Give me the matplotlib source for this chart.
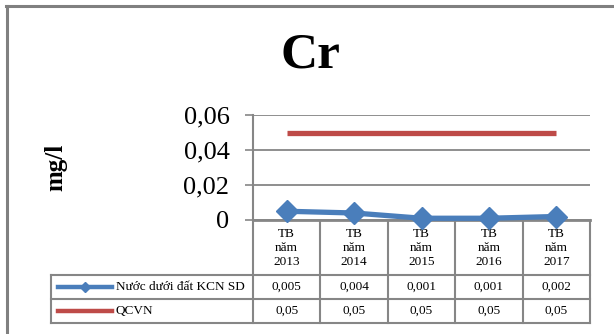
import matplotlib
matplotlib.use("Agg")
import matplotlib.pyplot as plt
from matplotlib.lines import Line2D

categories = ["TB\nnăm\n2013", "TB\nnăm\n2014", "TB\nnăm\n2015", "TB\nnăm\n2016", "TB\nnăm\n2017"]
series_names = ["Nước dưới đất KCN SD", "QCVN"]
groundwater = [0.005, 0.004, 0.001, 0.001, 0.002]
qcvn = [0.05, 0.05, 0.05, 0.05, 0.05]
groundwater_labels = ["0,005", "0,004", "0,001", "0,001", "0,002"]
qcvn_labels = ["0,05", "0,05", "0,05", "0,05", "0,05"]
yticks = [0, 0.02, 0.04, 0.06]
ytick_labels = ["0", "0,02", "0,04", "0,06"]

W, H = 614, 334
BLUE = "#4A7EBB"
RED = "#BE4B48"
GRAY = "#868686"
SERIF = "Liberation Serif"

plt.rcParams["font.family"] = [SERIF, "DejaVu Serif"]

fig = plt.figure(figsize=(W / 100, H / 100), dpi=100)

# pixel geometry of the plot area
px_left, px_right, px_top, px_bottom = 253, 590, 115, 220
ax = fig.add_axes([px_left / W, 1 - px_bottom / H, (px_right - px_left) / W, (px_bottom - px_top) / H])

x = list(range(len(categories)))
ax.plot(x, qcvn, color=RED, lw=3.8, solid_capstyle="butt", zorder=3)
ax.plot(x, groundwater, color=BLUE, lw=3.8, marker="D", markersize=11,
        markerfacecolor=BLUE, markeredgecolor=BLUE, zorder=4, clip_on=False)
ax.set_xlim(-0.5, len(categories) - 0.5)
ax.set_ylim(0, 0.06)
ax.set_yticks(yticks)
ax.set_yticklabels(ytick_labels)
ax.set_xticks([])
ax.tick_params(axis="y", length=6, width=1.2, color=GRAY, pad=11, labelsize=19)
ax.yaxis.grid(True, color=GRAY, lw=1.3)
ax.set_axisbelow(True)
for s in ["top", "right"]:
    ax.spines[s].set_visible(False)
ax.spines["left"].set_color(GRAY)
ax.spines["left"].set_linewidth(1.5)
ax.spines["bottom"].set_color(GRAY)
ax.spines["bottom"].set_linewidth(2)

# overlay in pixel coordinates for frame and data table
ov = fig.add_axes([0, 0, 1, 1], zorder=-1)
ov.set_xlim(0, W)
ov.set_ylim(H, 0)
ov.axis("off")

def hline(y, x0, x1, lw=1.5, color=GRAY):
    ov.add_line(Line2D([x0, x1], [y, y], color=color, lw=lw))

def vline(xp, y0, y1, lw=1.5, color=GRAY):
    ov.add_line(Line2D([xp, xp], [y0, y1], color=color, lw=lw))

# outer chart frame
hline(6, 6, W, lw=2.2, color="#808080")
vline(7, 6, H, lw=2.2, color="#808080")

fig.canvas.draw()
def data_to_px(xv):
    d = ax.transData.transform((xv, 0))
    return d[0]

borders = [data_to_px(i - 0.5) for i in range(len(categories) + 1)]
centers = [data_to_px(i) for i in x]

tbl_left = 51
row_tops = [275, 299, 323]
for b in borders:
    vline(b, px_bottom, row_tops[-1])
vline(tbl_left, row_tops[0], row_tops[-1])
for r in row_tops:
    hline(r, tbl_left, borders[-1])

# header labels
for cx, lab in zip(centers, categories):
    ov.text(cx, 248, lab, ha="center", va="center", fontsize=9.5, linespacing=1.2)

# rows
row_mid = [(row_tops[0] + row_tops[1]) / 2, (row_tops[1] + row_tops[2]) / 2]
for cx, a, b in zip(centers, groundwater_labels, qcvn_labels):
    ov.text(cx, row_mid[0], a, ha="center", va="center", fontsize=9.5)
    ov.text(cx, row_mid[1], b, ha="center", va="center", fontsize=9.5)

ov.add_line(Line2D([58, 112], [row_mid[0], row_mid[0]], color=BLUE, lw=3.2))
ov.plot([85], [row_mid[0]], marker="D", markersize=5, color=BLUE)
ov.add_line(Line2D([58, 112], [row_mid[1], row_mid[1]], color=RED, lw=3.2))
ov.text(116, row_mid[0], series_names[0], ha="left", va="center", fontsize=9.5)
ov.text(116, row_mid[1], series_names[1], ha="left", va="center", fontsize=9.5)

# title and axis label
fig.text(310 / W, 1 - 55 / H, "Cr", ha="center", va="center", fontsize=37, fontweight="bold")
fig.text(56 / W, 1 - 167 / H, "mg/l", ha="center", va="center", fontsize=18,
         fontweight="bold", rotation=90)

fig.savefig("out.png", dpi=100)
